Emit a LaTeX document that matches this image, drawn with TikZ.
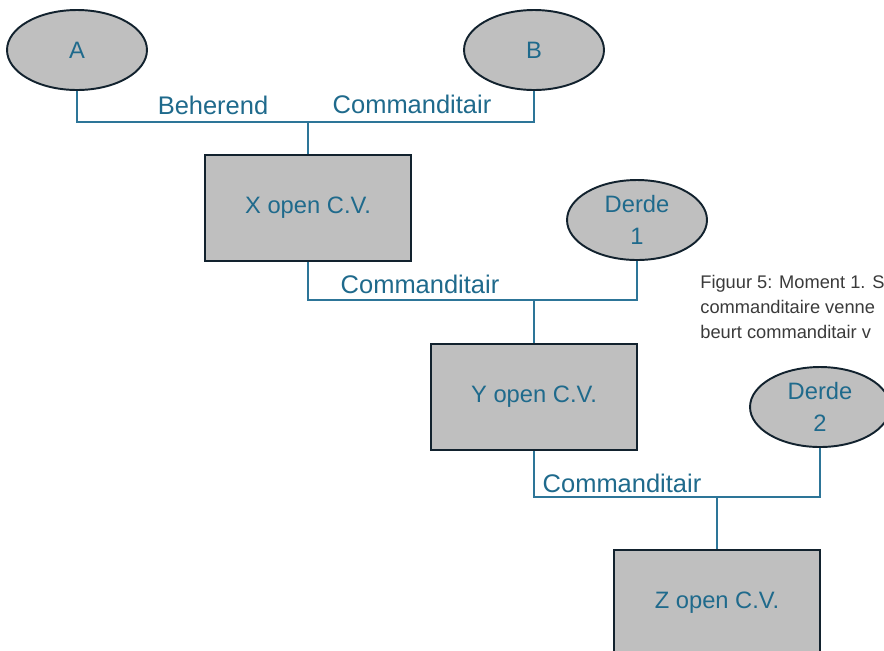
\documentclass[tikz,border=0pt]{standalone}
\usepackage{fontspec}
\setmainfont{Liberation Sans}
\usepackage{xcolor}
\usepackage{tikz}
\usetikzlibrary{shapes,positioning,calc}
\definecolor{txtblue}{HTML}{1F6A8C}
\definecolor{linkblue}{HTML}{2D7598}
\definecolor{boxgray}{HTML}{BFBFBF}
\definecolor{edgedark}{HTML}{12222E}
\definecolor{capgray}{HTML}{3A3A3A}
\tikzset{
  partner/.style={draw=edgedark, line width=1.1pt, ellipse, fill=boxgray,
    minimum width=2.8cm, minimum height=1.6cm, inner sep=0pt, align=center,
    text=txtblue, font=\fontsize{13.5}{18}\selectfont},
  cvbox/.style={draw=edgedark, line width=1.1pt, rectangle, fill=boxgray,
    minimum width=4.12cm, minimum height=2.12cm, inner sep=0pt,
    text=txtblue, font=\fontsize{13.5}{16}\selectfont},
  link/.style={draw=linkblue, line width=1.1pt},
  role/.style={text=txtblue, font=\fontsize{14.5}{16}\selectfont, inner sep=0pt}
}

\begin{document}
\begin{tikzpicture}[x=0.02cm, y=-0.02cm]
  \useasboundingbox (0,0) rectangle (884,650);
  \clip (0,0) rectangle (884,650);

  % Vennoten bovenaan
  \node[partner] (A) at (77,50) {A};
  \node[partner] (B) at (534,50) {B};

  % Commanditaire vennootschappen
  \node[cvbox] (X) at (308,208) {X open C.V.};
  \node[cvbox] (Y) at (534,397) {Y open C.V.};
  \node[cvbox] (Z) at (717,603) {Z open C.V.};

  % Derden
  \node[partner] (D1) at (637,220) {Derde\\1};
  \node[partner] (D2) at (820,407) {Derde\\2};

  % Knooppunten van de lijnen
  \coordinate (jX) at (X.north |- 0,122);
  \coordinate (jY) at (Y.north |- 0,300);
  \coordinate (jZ) at (Z.north |- 0,497);

  \draw[link] (A.south) |- (jX) -| (B.south);
  \draw[link] (jX) -- (X.north);
  \draw[link] (X.south) |- (jY) -| (D1.south);
  \draw[link] (jY) -- (Y.north);
  \draw[link] (Y.south) |- (jZ) -| (D2.south);
  \draw[link] (jZ) -- (Z.north);

  % Rollen
  \node[role] (rA) at (213,105) {Beherend};
  \node[role] (rB) at (412,104) {Commanditair};
  \node[role] (rX) at (420,284) {Commanditair};
  \node[role] (rY) at (622,483) {Commanditair};

  % Bijschrift
  \node[anchor=north west, align=left, inner sep=0pt, text=capgray,
    font=\fontsize{10.4}{14.2}\selectfont] (cap) at (700,275)
    {Figuur 5: Moment 1. S\\commanditaire venne\\beurt commanditair v};
\end{tikzpicture}
\end{document}
